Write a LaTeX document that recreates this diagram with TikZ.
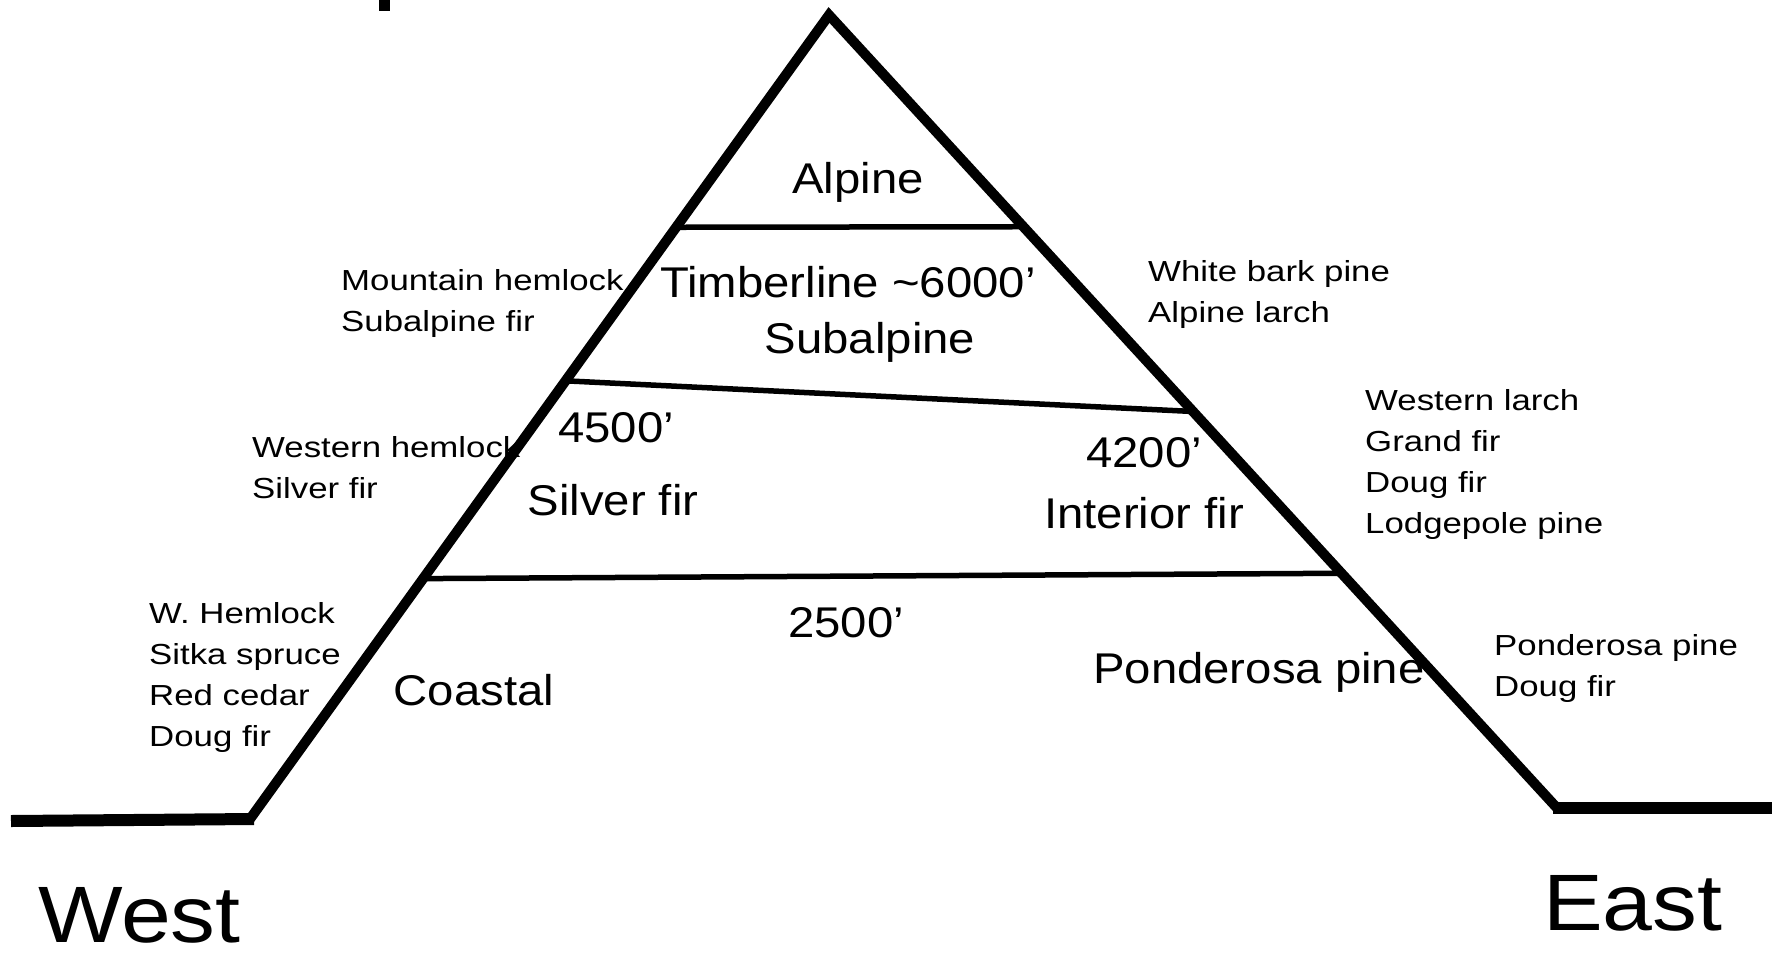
\documentclass[tikz,border=0pt]{standalone}
\usepackage{fontspec}
\setmainfont{Liberation Sans}
\newfontfamily\smallf[FakeStretch=1.2]{Liberation Sans}
\newfontfamily\bigf[FakeStretch=1.1]{Liberation Sans}
\newfontfamily\hugef[FakeStretch=1.12]{Liberation Sans}
\usetikzlibrary{calc}
\tikzset{
  slope/.style={line width=10pt, line join=miter, black},
  ground/.style={line width=12pt, black},
  zoneline/.style={line width=5.5pt, black},
  species/.style={inner sep=0pt, anchor=north west, align=left, font={\smallf\fontsize{29}{41}\selectfont}},
  zone/.style={inner sep=0pt, anchor=base, font={\bigf\fontsize{43}{50}\selectfont}},
  side/.style={inner sep=0pt, anchor=base west, text depth=0pt, font={\hugef\fontsize{80}{90}\selectfont}}
}
\begin{document}
\begin{tikzpicture}[x=1pt,y=-1pt]
\useasboundingbox (0,0) rectangle (1779,953);
\fill[white] (0,0) rectangle (1779,953);
% cut-off glyph at top
\fill[black] (379,0) rectangle (390,11);
% mountain outline
\coordinate (GL) at (11,821);
\coordinate (L) at (250,819);
\coordinate (A) at (829,15);
\coordinate (R) at (1557,808);
\coordinate (GR) at (1772,808);
\draw[ground] (GL) -- ($(L)+(4,0)$);
\draw[ground] ($(R)+(-4,0)$) -- (GR);
\draw[slope] (L) -- (A) -- (R);
% zone boundaries
\coordinate (alpL) at ($(L)!0.736!(A)$);
\coordinate (alpR) at ($(R)!0.733!(A)$);
\coordinate (subL) at ($(L)!0.545!(A)$);
\coordinate (subR) at ($(R)!0.500!(A)$);
\coordinate (lowL) at ($(L)!0.299!(A)$);
\coordinate (lowR) at ($(R)!0.296!(A)$);
\draw[zoneline] (alpL) -- (alpR);
\draw[zoneline] (subL) -- (subR);
\draw[zoneline] (lowL) -- (lowR);
% zone labels
\node[zone] (alpine) at (858,193) {Alpine};
\node[zone] (timber) at (848,297) {Timberline \textasciitilde6000’};
\node[zone] (subalp) at (870,353) {Subalpine};
\node[zone, anchor=base west] (e4500) at (558,442) {4500’};
\node[zone] (silver) at (613,515) {Silver fir};
\node[zone] (e4200) at (1144,467) {4200’};
\node[zone] (interior) at (1144,528) {Interior fir};
\node[zone] (e2500) at (846,637) {2500’};
\node[zone] (coastal) at (474,705) {Coastal};
\node[zone, anchor=base west] (ponder) at (1093,683) {Ponderosa pine};
% species lists
\node[species] (sp1) at (341,269) {Mountain hemlock\\Subalpine fir};
\node[species] (sp2) at (1148,260) {White bark pine\\Alpine larch};
\node[species] (sp3) at (252,436) {Western hemlock\\Silver fir};
\node[species] (sp4) at (1365,389) {Western larch\\Grand fir\\Doug fir\\Lodgepole pine};
\node[species] (sp5) at (149,602) {W. Hemlock\\Sitka spruce\\Red cedar\\Doug fir};
\node[species] (sp6) at (1494,634) {Ponderosa pine\\Doug fir};
% directions
\node[side] (west) at (38,942) {West};
\node[side] (east) at (1543,930) {East};
\end{tikzpicture}
\end{document}
